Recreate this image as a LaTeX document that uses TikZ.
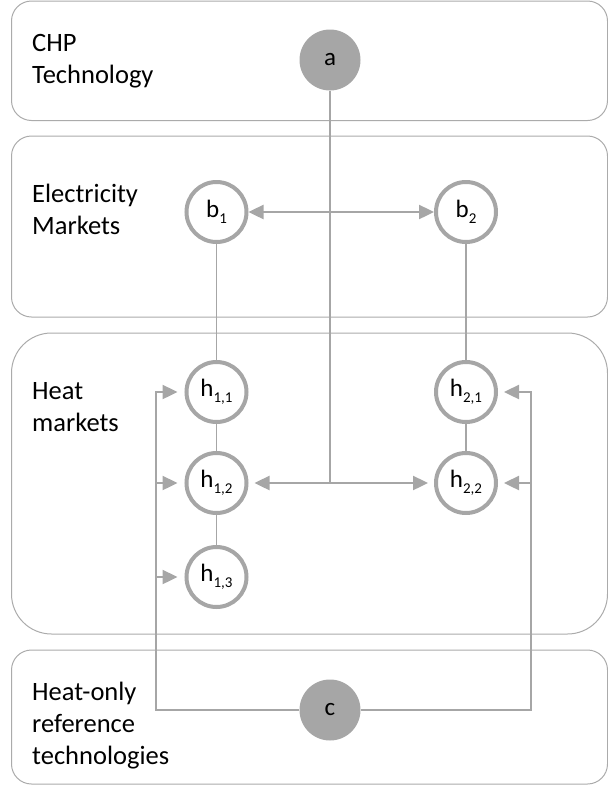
\documentclass[tikz,border=0pt]{standalone}
\usepackage{fontspec}
\setmainfont{Carlito}
\usetikzlibrary{arrows.meta}
\definecolor{lgray}{HTML}{A6A6A6}
\definecolor{boxgray}{HTML}{ABABAB}
\newcommand\mysub[1]{\raisebox{-6.5pt}{\fontsize{15}{15}\selectfont #1}}
\begin{document}
\begin{tikzpicture}[x=1pt,y=-1pt,
  lane/.style={draw=boxgray, line width=1pt},
  lanelabel/.style={anchor=base west, inner sep=0pt, font=\fontsize{26.5}{32}\selectfont},
  mkt/.style={circle, draw=lgray, line width=4pt, fill=white, minimum size=60pt, inner sep=0pt, font=\fontsize{25}{25}\selectfont},
  tech/.style={circle, fill=lgray, minimum size=61pt, inner sep=0pt, font=\fontsize{25}{25}\selectfont},
  conn/.style={draw=lgray, line width=2.4pt},
  thinconn/.style={draw=lgray, line width=1.8pt},
  tipa/.tip={Triangle[length=15pt,width=14pt]}
]
\useasboundingbox (0,0) rectangle (608,785);
% lanes
\draw[lane, rounded corners=20pt] (11.5,1) rectangle (607.5,120.5);
\draw[lane, rounded corners=20pt] (11.5,136) rectangle (607.5,317);
\draw[lane, rounded corners=40pt] (11.5,333) rectangle (607.5,634);
\draw[lane, rounded corners=20pt] (11.5,650) rectangle (607.5,784);
% lane labels
\node[lanelabel] (l1) at (32,51) {\begin{tabular}[t]{@{}l@{}}CHP\\Technology\end{tabular}};
\node[lanelabel] (l2) at (32,202) {\begin{tabular}[t]{@{}l@{}}Electricity\\Markets\end{tabular}};
\node[lanelabel] (l3) at (32,399) {\begin{tabular}[t]{@{}l@{}}Heat\\markets\end{tabular}};
\node[lanelabel] (l4) at (32,700) {\begin{tabular}[t]{@{}l@{}}Heat-only\\reference\\technologies\end{tabular}};
% nodes
\node[tech] (a) at (330,60) {a};
\node[mkt] (b1) at (216.5,212) {b\mysub{1}};
\node[mkt] (b2) at (466,212) {b\mysub{2}};
\node[mkt] (h11) at (216.5,392) {h\mysub{1,1}};
\node[mkt] (h12) at (216.5,483) {h\mysub{1,2}};
\node[mkt] (h13) at (216.5,577) {h\mysub{1,3}};
\node[mkt] (h21) at (466,392) {h\mysub{2,1}};
\node[mkt] (h22) at (466,483) {h\mysub{2,2}};
\node[tech] (c) at (330,710) {c};
\coordinate (L) at (156,710);
\coordinate (R) at (531,710);
% thin links
\draw[thinconn] (b1) -- (h11);
\draw[thinconn] (b2) -- (h21);
\draw[thinconn] (h11) -- (h12);
\draw[thinconn] (h12) -- (h13);
\draw[thinconn] (h21) -- (h22);
% CHP connectors
\draw[conn] (a) -- (a |- h12);
\draw[conn, tipa-tipa] (b1) -- (b2);
\draw[conn, tipa-tipa, shorten <=6pt, shorten >=6pt] (h12) -- (h22);
% heat-only connectors
\draw[conn, -tipa, shorten >=7pt] (c) -- (L) |- (h11);
\draw[conn, -tipa, shorten >=7pt] (L |- h12) -- (h12);
\draw[conn, -tipa, shorten >=7pt] (L |- h13) -- (h13);
\draw[conn, -tipa, shorten >=6pt] (c) -- (R) |- (h21);
\draw[conn, -tipa, shorten >=6pt] (R |- h22) -- (h22);
\end{tikzpicture}
\end{document}
